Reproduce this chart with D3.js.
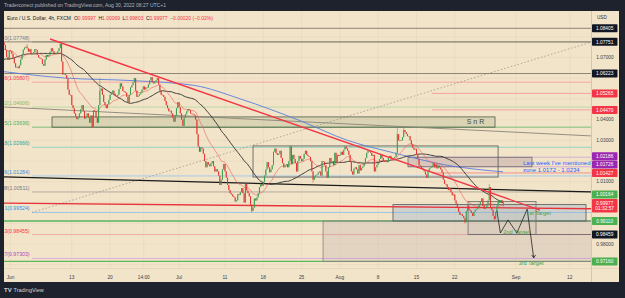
<!DOCTYPE html>
<html>
<head>
<meta charset="utf-8">
<script src="https://cdn.jsdelivr.net/npm/d3@7"></script>
<style>
  html, body { margin: 0; padding: 0; background: #1e222d; }
  svg { display: block; font-family: "Liberation Sans", Arial, sans-serif; }
</style>
</head>
<body>
<svg id="chart" width="625" height="298"></svg>
<script>
// ---- text ----
const titleText = "Traderconect published on TradingView.com, Aug 30, 2022 08:27 UTC+1";
const symbolText = "Euro / U.S. Dollar, 4h, FXCM";
const ohlcKeys = ["O", "H", "L", "C"];
const ohlcVals = ["0.99997", "1.00069", "0.99803", "0.99977"];
const changeText = "\u22120.00020 (\u22120.02%)";

// ---- 4h closes, one row per trading day (6 bars) ----
const firstDay = -8; // May 20, counted in trading days from Jun 1
const mayCloses = [
  [1.0590, 1.0575, 1.0555, 1.0540, 1.0565, 1.0563],
  [1.0585, 1.0600, 1.0650, 1.0675, 1.0690, 1.0690],
  [1.0700, 1.0720, 1.0745, 1.0710, 1.0725, 1.0735],
  [1.0715, 1.0690, 1.0665, 1.0655, 1.0680, 1.0677],
  [1.0690, 1.0675, 1.0700, 1.0715, 1.0725, 1.0725],
  [1.0720, 1.0710, 1.0730, 1.0740, 1.0725, 1.0733],
  [1.0740, 1.0760, 1.0775, 1.0780, 1.0770, 1.0780],
  [1.0772, 1.0760, 1.0735, 1.0702, 1.0688, 1.0734]
];
const junCloses = [
  [1.0730, 1.0718, 1.0700, 1.0672, 1.0652, 1.0655],
  [1.0648, 1.0662, 1.0690, 1.0712, 1.0738, 1.0748],
  [1.0752, 1.0744, 1.0728, 1.0740, 1.0716, 1.0720],
  [1.0725, 1.0740, 1.0735, 1.0712, 1.0700, 1.0696],
  [1.0692, 1.0668, 1.0660, 1.0690, 1.0712, 1.0705],
  [1.0712, 1.0728, 1.0744, 1.0730, 1.0722, 1.0717],
  [1.0722, 1.0730, 1.0745, 1.0765, 1.0680, 1.0618],
  [1.0622, 1.0615, 1.0598, 1.0545, 1.0520, 1.0518],
  [1.0470, 1.0455, 1.0430, 1.0415, 1.0402, 1.0410],
  [1.0430, 1.0450, 1.0470, 1.0440, 1.0405, 1.0415],
  [1.0430, 1.0410, 1.0385, 1.0420, 1.0365, 1.0445],
  [1.0440, 1.0410, 1.0385, 1.0470, 1.0540, 1.0550],
  [1.0520, 1.0485, 1.0470, 1.0455, 1.0475, 1.0495],
  [1.0520, 1.0530, 1.0540, 1.0525, 1.0515, 1.0512],
  [1.0520, 1.0548, 1.0575, 1.0560, 1.0538, 1.0535],
  [1.0530, 1.0510, 1.0480, 1.0520, 1.0555, 1.0566],
  [1.0580, 1.0600, 1.0540, 1.0510, 1.0515, 1.0522],
  [1.0530, 1.0545, 1.0560, 1.0545, 1.0555, 1.0554],
  [1.0570, 1.0590, 1.0605, 1.0580, 1.0575, 1.0584],
  [1.0590, 1.0600, 1.0570, 1.0540, 1.0520, 1.0518],
  [1.0510, 1.0490, 1.0470, 1.0455, 1.0440, 1.0443],
  [1.0430, 1.0410, 1.0390, 1.0420, 1.0455, 1.0484]
];
const julCloses = [
  [1.0460, 1.0430, 1.0400, 1.0370, 1.0410, 1.0426],
  [1.0440, 1.0450, 1.0445, 1.0430, 1.0428, 1.0425],
  [1.0420, 1.0400, 1.0330, 1.0270, 1.0245, 1.0266],
  [1.0260, 1.0235, 1.0200, 1.0170, 1.0195, 1.0183],
  [1.0175, 1.0190, 1.0200, 1.0175, 1.0150, 1.0161],
  [1.0150, 1.0130, 1.0085, 1.0110, 1.0160, 1.0186],
  [1.0150, 1.0120, 1.0085, 1.0060, 1.0045, 1.0039],
  [1.0030, 1.0025, 1.0005, 1.0010, 1.0040, 1.0036],
  [1.0050, 1.0070, 1.0045, 1.0000, 1.0090, 1.0058],
  [1.0045, 1.0030, 0.9990, 0.9960, 0.9975, 1.0019],
  [1.0010, 1.0025, 1.0045, 1.0075, 1.0090, 1.0081],
  [1.0100, 1.0130, 1.0160, 1.0195, 1.0170, 1.0146],
  [1.0160, 1.0180, 1.0245, 1.0260, 1.0238, 1.0230],
  [1.0235, 1.0250, 1.0215, 1.0190, 1.0170, 1.0179],
  [1.0185, 1.0170, 1.0200, 1.0270, 1.0185, 1.0230],
  [1.0210, 1.0190, 1.0150, 1.0200, 1.0225, 1.0211],
  [1.0200, 1.0210, 1.0235, 1.0250, 1.0230, 1.0224],
  [1.0220, 1.0200, 1.0150, 1.0110, 1.0125, 1.0132],
  [1.0135, 1.0145, 1.0150, 1.0130, 1.0200, 1.0197],
  [1.0180, 1.0150, 1.0120, 1.0170, 1.0215, 1.0196],
  [1.0200, 1.0180, 1.0240, 1.0195, 1.0230, 1.0225]
];
const augCloses = [
  [1.0230, 1.0245, 1.0230, 1.0255, 1.0270, 1.0261],
  [1.0250, 1.0230, 1.0195, 1.0150, 1.0135, 1.0163],
  [1.0170, 1.0160, 1.0140, 1.0180, 1.0155, 1.0167],
  [1.0175, 1.0190, 1.0215, 1.0240, 1.0250, 1.0248],
  [1.0240, 1.0225, 1.0230, 1.0150, 1.0170, 1.0182],
  [1.0190, 1.0210, 1.0230, 1.0215, 1.0200, 1.0196],
  [1.0200, 1.0195, 1.0215, 1.0225, 1.0215, 1.0212],
  [1.0215, 1.0220, 1.0240, 1.0330, 1.0300, 1.0297],
  [1.0300, 1.0315, 1.0350, 1.0340, 1.0330, 1.0320],
  [1.0320, 1.0300, 1.0280, 1.0265, 1.0255, 1.0259],
  [1.0230, 1.0210, 1.0180, 1.0175, 1.0165, 1.0159],
  [1.0150, 1.0135, 1.0120, 1.0150, 1.0165, 1.0169],
  [1.0175, 1.0190, 1.0170, 1.0185, 1.0165, 1.0178],
  [1.0170, 1.0160, 1.0145, 1.0110, 1.0090, 1.0088],
  [1.0075, 1.0060, 1.0070, 1.0050, 1.0035, 1.0039],
  [1.0010, 0.9995, 0.9975, 0.9955, 0.9940, 0.9943],
  [0.9935, 0.9925, 0.9905, 0.9960, 0.9985, 0.9966],
  [0.9960, 0.9950, 0.9935, 0.9955, 0.9965, 0.9968],
  [0.9975, 0.9990, 1.0005, 1.0020, 0.9985, 0.9969],
  [0.9975, 0.9985, 1.0010, 1.0075, 0.9975, 0.9964],
  [0.9935, 0.9920, 0.9955, 0.9985, 1.0010, 0.9999],
  [1.0012, 0.99997, 0.99977]
];
// notable wicks: [day, bar, high, low]
const wickMarks = [
  [2, 1, 1.0764, null], [6, 3, 1.0774, null], [10, 4, null, 1.0359],
  [11, 4, 1.0601, null], [31, 3, null, 0.9952], [36, 3, 1.0278, null],
  [39, 3, null, 1.0096], [50, 3, 1.0368, null], [51, 2, 1.0364, null],
  [59, 2, null, 0.9899], [62, 3, 1.0090, null], [63, 1, null, 0.9914],
  [64, 2, 1.00069, 0.99803]
];

// slow average (blue)
const blueDays = [-1, 7, 16, 24, 30, 38, 44, 50, 57, 64.3];
const blueVals = [1.0632, 1.0601, 1.0588, 1.0565, 1.0500, 1.0392, 1.0300, 1.0240, 1.0180, 1.0148];

// axes
const priceTicks = [0.97, 0.98, 0.99, 1.00, 1.01, 1.02, 1.03, 1.04, 1.05, 1.06, 1.07, 1.08];
const timeTickDays = [0, 8, 13, 17.4, 22, 28, 33, 38, 43, 48, 53, 58, 66, 73];
const timeTickLabels = ["Jun", "13", "20", "14:00", "Jul", "11", "18", "25", "Aug", "8", "15", "22", "Sep", "12"];

// fibonacci
const fibRatios = ["0", "0.236", "0.382", "0.5", "0.618", "0.786", "0.88", "1", "1.13", "1.27"];
const fibPrices = [1.07748, 1.05807, 1.04606, 1.03636, 1.02666, 1.01284, 1.00511, 0.99524, 0.98455, 0.97303];

// price labels on the axis
const levelPrices = [1.08405, 1.07751, 1.06223, 1.05265, 1.04470, 1.02186, 1.01726, 1.01427, 1.00164, 0.99977, 0.99110, 0.98459, 0.97160];
const levelKinds = ["black", "black", "black", "red", "red", "purple", "purple", "red", "green", "last", "green", "black", "green"];
const countdown = "01:32:57";

// drawings, [day, price]
const redTrend = [[5.16, 1.0789], [69.13, 0.99637]];
const blackTrend = [[-1, 1.0124], [76, 1.0051]];
const grayTrend = [[-1, 1.0461], [76, 1.0321]];
const redFlat = [[-1, 0.99975], [76, 0.99700]];
const fibDiag = [[2.81, 0.99524], [75.9, 1.07748]];
const projection = [[63.5, 0.9960], [63.95, 0.9853], [64.95, 0.9916], [66.1, 0.9853], [67.45, 0.9968], [68.3, 0.9733]];
const boxConsol = [[31.66, 1.0273], [63.65, 1.0123]];
const boxZone = [[51.89, 1.02186], [68.08, 1.01726]];
const boxSnR = [[5.42, 1.0413], [63.25, 1.03636]];
const boxBlue = [[49.93, 0.9990], [75.13, 0.99110]];
const boxLower = [[40.8, 0.99110], [80, 0.97160]];
const boxTarget = [[59.73, 1.0005], [68.6, 0.98459]];
const notes = [
  {t: "S n R", d: 60.7, p: 1.0389, kind: "snr"},
  {t: "Last week I've mentioned", d: 66.9, p: 1.0191, kind: "blue"},
  {t: "zone 1.0172 - 1.0234", d: 66.9, p: 1.0157, kind: "blue"},
  {t: "1st Target", d: 68.93, p: 0.9948, kind: "target"},
  {t: "2nd Target", d: 66.06, p: 0.9860, kind: "target"},
  {t: "3rd Target", d: 67.95, p: 0.9708, kind: "target"}
];

// ---- build bars ----
const allRows = [...mayCloses, ...junCloses, ...julCloses, ...augCloses];
const bars = [];
let prev = allRows[0][0];
allRows.forEach(function(row, k) {
  row.forEach(function(c, b) {
    bars.push({d: firstDay + k, b: b, t: firstDay + k + b / 6, o: prev, c: c,
      h: Math.max(prev, c), l: Math.min(prev, c)});
    prev = c;
  });
});
wickMarks.forEach(function(w) {
  const bar = bars.find(function(e) { return e.d === w[0] && e.b === w[1]; });
  if (!bar) return;
  if (w[2] != null) bar.h = Math.max(bar.h, w[2]);
  if (w[3] != null) bar.l = Math.min(bar.l, w[3]);
});
const closes = bars.map(function(b) { return b.c; });
const sma50 = closes.map(function(c, i) { return d3.mean(closes.slice(Math.max(0, i - 49), i + 1)); });
let ema;
const ema20 = closes.map(function(c) { ema = ema === undefined ? c : ema + (c - ema) * 2 / 21; return ema; });

// ---- scales ----
const pane = {x0: 4, x1: 591, y0: 11, y1: 268};
const x = d3.scaleLinear().domain([0, 73]).range([10.5, 569.7]);
const y = d3.scaleLinear().domain([0.98, 1.08]).range([244, 36.7]);

const svg = d3.select("#chart");
svg.append("rect").attr("width", 625).attr("height", 298).attr("fill", "#1e222d");
svg.append("text").attr("x", 4).attr("y", 7).attr("font-size", 5).attr("fill", "#b2b5be").text(titleText);
svg.append("rect").attr("x", 4).attr("y", 11).attr("width", 615).attr("height", 271).attr("fill", "#f2e4c9");

svg.append("defs").append("clipPath").attr("id", "pane")
  .append("rect").attr("x", pane.x0).attr("y", pane.y0)
  .attr("width", pane.x1 - pane.x0).attr("height", pane.y1 - pane.y0);

// grid
const grid = svg.append("g").attr("stroke", "#7a6a4a").attr("stroke-opacity", 0.09).attr("stroke-width", 0.6);
grid.selectAll("line.v").data(timeTickDays).enter().append("line")
  .attr("x1", function(d) { return x(d); }).attr("x2", function(d) { return x(d); })
  .attr("y1", pane.y0).attr("y2", pane.y1);
grid.selectAll("line.h").data(priceTicks).enter().append("line")
  .attr("x1", pane.x0).attr("x2", pane.x1)
  .attr("y1", function(d) { return y(d); }).attr("y2", function(d) { return y(d); });

const plot = svg.append("g").attr("clip-path", "url(#pane)");
const seg = function(pts) { return d3.line().x(function(p) { return x(p[0]); }).y(function(p) { return y(p[1]); })(pts); };

function box(b, fill, stroke, sw) {
  plot.append("rect")
    .attr("x", x(b[0][0])).attr("y", y(b[0][1]))
    .attr("width", x(b[1][0]) - x(b[0][0])).attr("height", y(b[1][1]) - y(b[0][1]))
    .attr("fill", fill).attr("stroke", stroke).attr("stroke-width", sw);
}

// fibonacci levels
const fibLine = ["#9a968c", "#f4a19a", "#b5d9a0", "#6dbb6d", "#8ccfc0", "#9cc8ee", "#aaa49a", "#8cc0f0", "#f2a79e", "#d9a6e0"];
const fibText = ["#787b86", "#f23645", "#8fb85a", "#4caf50", "#26a69a", "#3d8fe0", "#787b86", "#2196f3", "#f23645", "#ab47bc"];
plot.selectAll("line.fib").data(fibPrices).enter().append("line")
  .attr("x1", x(fibDiag[0][0])).attr("x2", pane.x1)
  .attr("y1", function(p) { return y(p); }).attr("y2", function(p) { return y(p); })
  .attr("stroke", function(p, i) { return fibLine[i]; }).attr("stroke-width", 0.9);
plot.selectAll("text.fib").data(fibPrices).enter().append("text")
  .attr("x", x(fibDiag[0][0]) - 2.5).attr("y", function(p) { return y(p) - 2; })
  .attr("text-anchor", "end").attr("font-size", 5.2)
  .attr("fill", function(p, i) { return fibText[i]; })
  .text(function(p, i) { return fibRatios[i] + "(" + p.toFixed(5) + ")"; });
plot.append("path").attr("d", seg(fibDiag)).attr("fill", "none")
  .attr("stroke", "#9a968c").attr("stroke-width", 0.8).attr("stroke-dasharray", "1.5,2");

// level lines
const levelFrom = [-2, -2, -2, 55, 55, 51.89, 51.89, 55, null, null, -2, 59.73, -2];
const levelStroke = ["#8d8474", "#8d8474", "#8d8474", "#f1a3a3", "#f1a3a3", "#d2a8d6", "#d2a8d6", "#f08a8a", null, null, "#7cc07c", "#7a6262", "#5cb85c"];
const levelWidth = [1, 1, 1, 1, 1, 0.9, 0.9, 0.9, 0, 0, 2, 1, 1.4];
levelPrices.forEach(function(p, i) {
  if (levelFrom[i] == null) return;
  plot.append("line").attr("x1", x(levelFrom[i])).attr("x2", pane.x1)
    .attr("y1", y(p)).attr("y2", y(p))
    .attr("stroke", levelStroke[i]).attr("stroke-width", levelWidth[i]);
});

// boxes
box(boxSnR, "rgba(150,165,120,0.25)", "#4e5a48", 0.8);
box(boxLower, "rgba(170,150,170,0.2)", "#8a8080", 0.8);
box(boxBlue, "rgba(150,175,205,0.35)", "#555", 0.8);
box(boxTarget, "rgba(160,160,160,0.12)", "#6e6e6e", 0.8);
box(boxZone, "rgba(160,130,150,0.3)", "#6e6e6e", 0.8);
box(boxConsol, "none", "#555", 0.8);

// trend lines behind candles
plot.append("path").attr("d", seg(grayTrend)).attr("stroke", "#8a8478").attr("stroke-width", 0.9).attr("fill", "none");
plot.append("path").attr("d", seg(blackTrend)).attr("stroke", "#1a1a1a").attr("stroke-width", 1.3).attr("fill", "none");
plot.append("path").attr("d", seg(redFlat)).attr("stroke", "#e8323c").attr("stroke-width", 1.3).attr("fill", "none");

// moving averages
const blueLine = blueDays.map(function(d, i) { return [d, blueVals[i]]; });
plot.append("path").attr("d", d3.line().curve(d3.curveMonotoneX)
    .x(function(p) { return x(p[0]); }).y(function(p) { return y(p[1]); })(blueLine))
  .attr("fill", "none").attr("stroke", "#5a7de0").attr("stroke-width", 0.9);
const maLine = function(vals) {
  return d3.line().x(function(b) { return x(b.t); }).y(function(b, i) { return y(vals[i]); })(bars);
};
plot.append("path").attr("d", maLine(sma50)).attr("fill", "none").attr("stroke", "#2b2b2b").attr("stroke-width", 0.9);
plot.append("path").attr("d", maLine(ema20)).attr("fill", "none").attr("stroke", "#ee5a5a").attr("stroke-width", 0.7).attr("stroke-opacity", 0.85);

// candles
const up = "#3a9d4f", down = "#e3342f";
const cg = plot.append("g");
cg.selectAll("line").data(bars).enter().append("line")
  .attr("x1", function(b) { return x(b.t); }).attr("x2", function(b) { return x(b.t); })
  .attr("y1", function(b) { return y(b.h); }).attr("y2", function(b) { return y(b.l); })
  .attr("stroke", function(b) { return b.c >= b.o ? up : down; }).attr("stroke-width", 0.5);
cg.selectAll("rect").data(bars).enter().append("rect")
  .attr("x", function(b) { return x(b.t) - 0.5; }).attr("width", 1)
  .attr("y", function(b) { return y(Math.max(b.o, b.c)); })
  .attr("height", function(b) { return Math.max(0.7, Math.abs(y(b.o) - y(b.c))); })
  .attr("fill", function(b) { return b.c >= b.o ? up : down; });

// red descending trend line and projection
plot.append("path").attr("d", seg(redTrend)).attr("stroke", "#f23645").attr("stroke-width", 1.4).attr("fill", "none");
plot.append("path").attr("d", seg(projection)).attr("stroke", "#222").attr("stroke-width", 0.8).attr("fill", "none");
const tip = projection[projection.length - 1];
plot.append("path")
  .attr("d", "M" + (x(tip[0]) - 2) + "," + (y(tip[1]) - 3) + "L" + x(tip[0]) + "," + y(tip[1]) + "L" + (x(tip[0]) + 2) + "," + (y(tip[1]) - 3))
  .attr("stroke", "#222").attr("stroke-width", 0.8).attr("fill", "none");

// notes
const noteStyle = {
  snr: {fill: "#3f4a3c", size: 7, anchor: "middle"},
  blue: {fill: "#2962ff", size: 6, anchor: "start"},
  target: {fill: "#43a047", size: 5.6, anchor: "middle"}
};
notes.forEach(function(n) {
  const s = noteStyle[n.kind];
  plot.append("text").attr("x", x(n.d)).attr("y", y(n.p)).attr("dy", "0.35em")
    .attr("text-anchor", s.anchor).attr("font-size", s.size).attr("fill", s.fill).text(n.t);
});

// ---- axes ----
svg.append("line").attr("x1", pane.x1 + 0.5).attr("x2", pane.x1 + 0.5).attr("y1", 11).attr("y2", 282)
  .attr("stroke", "#cdbf9f").attr("stroke-width", 0.8);
svg.append("line").attr("x1", 4).attr("x2", 619).attr("y1", pane.y1 + 0.5).attr("y2", pane.y1 + 0.5)
  .attr("stroke", "#ddcfb0").attr("stroke-width", 0.6);
svg.append("text").attr("x", 597).attr("y", 19).attr("font-size", 4.6).attr("fill", "#2a2e39").text("USD");

// axis price labels with overlap resolution
const labelFill = {black: "#131722", red: "#f23645", purple: "#9c27b0", green: "#4caf50", last: "#f23645"};
const labs = levelPrices.map(function(p, i) {
  const cy = y(p);
  const last = levelKinds[i] === "last";
  return {p: p, kind: levelKinds[i], top: cy - 4, bottom: last ? cy + 9.5 : cy + 4};
}).sort(function(a, b) { return a.top - b.top; });
for (let i = labs.length - 2; i >= 0; i--) {
  const over = labs[i].bottom - (labs[i + 1].top - 0.4);
  if (over > 0) { labs[i].top -= over; labs[i].bottom -= over; }
}

// tick labels that a coloured label covers are left out
const freeTicks = priceTicks.filter(function(p) {
  const ty = y(p);
  return !labs.some(function(l) { return ty > l.top - 1.5 && ty < l.bottom + 1.5; });
});
svg.selectAll("text.pt").data(freeTicks).enter().append("text")
  .attr("x", 605).attr("y", function(p) { return y(p); }).attr("dy", "0.35em")
  .attr("text-anchor", "middle").attr("font-size", 4.8).attr("fill", "#3a3d46")
  .text(function(p) { return p.toFixed(5); });
svg.selectAll("text.tt").data(timeTickDays).enter().append("text")
  .attr("x", function(d) { return x(d); }).attr("y", 277).attr("dy", "0.35em")
  .attr("text-anchor", "middle").attr("font-size", 4.8).attr("fill", "#3a3d46")
  .text(function(d, i) { return timeTickLabels[i]; });

const lg = svg.append("g");
labs.forEach(function(l) {
  lg.append("rect").attr("x", 592).attr("y", l.top).attr("width", 25.5).attr("height", l.bottom - l.top)
    .attr("fill", labelFill[l.kind]).attr("rx", 0.8);
  lg.append("text").attr("x", 604.7).attr("y", l.top + 4).attr("dy", "0.35em")
    .attr("text-anchor", "middle").attr("font-size", 4.8).attr("fill", "#fff").text(l.p.toFixed(5));
  if (l.kind === "last") {
    lg.append("text").attr("x", 604.7).attr("y", l.top + 9.6).attr("dy", "0.35em")
      .attr("text-anchor", "middle").attr("font-size", 4.8).attr("fill", "#fff").text(countdown);
  }
});

// legend
const leg = svg.append("text").attr("x", 7).attr("y", 19.6).attr("font-size", 5).attr("fill", "#131722");
leg.append("tspan").text(symbolText);
ohlcKeys.forEach(function(k, i) {
  leg.append("tspan").attr("dx", i === 0 ? 3 : 2.5).attr("fill", "#131722").text(k);
  leg.append("tspan").attr("fill", "#f23645").text(ohlcVals[i]);
});
leg.append("tspan").attr("dx", 2.5).attr("fill", "#f23645").text(changeText);

// footer logo
svg.append("text").attr("x", 4).attr("y", 292).attr("font-size", 6).attr("font-weight", "bold").attr("fill", "#d1d4dc").text("TV");
svg.append("text").attr("x", 13.5).attr("y", 292).attr("font-size", 5.5).attr("fill", "#d1d4dc").text("TradingView");
</script>
</body>
</html>
